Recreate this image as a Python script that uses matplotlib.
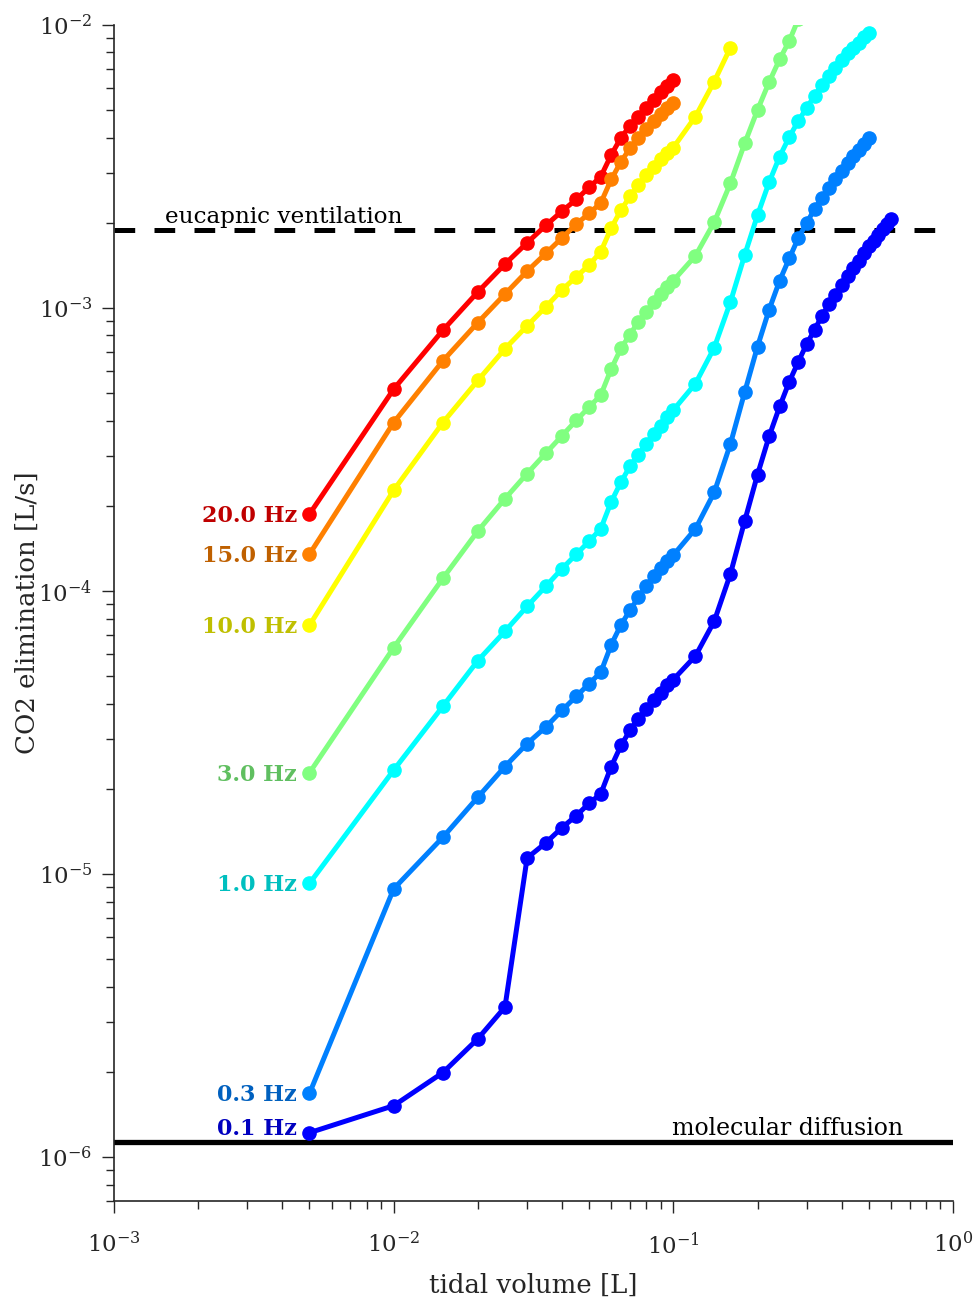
import numpy as np
import matplotlib
matplotlib.use("Agg")
import matplotlib.pyplot as plt
from matplotlib.ticker import LogLocator, LogFormatterSciNotation, NullFormatter

plt.rcParams['font.family'] = ['DejaVu Serif']
plt.rcParams['mathtext.fontset'] = 'dejavuserif'
plt.rcParams['axes.unicode_minus'] = False

# ---------------- data ----------------
tidal_volume = [0.005, 0.010, 0.015, 0.020, 0.025, 0.030, 0.035, 0.040, 0.045, 0.050,
                0.055, 0.060, 0.065, 0.070, 0.075, 0.080, 0.085, 0.090, 0.095, 0.100,
                0.12, 0.14, 0.16, 0.18, 0.20, 0.22, 0.24, 0.26, 0.28, 0.30,
                0.32, 0.34, 0.36, 0.38, 0.40, 0.42, 0.44, 0.46, 0.48, 0.50,
                0.52, 0.54, 0.56, 0.58, 0.60]

freq_labels = ['20.0 Hz', '15.0 Hz', '10.0 Hz', '3.0 Hz', '1.0 Hz', '0.3 Hz', '0.1 Hz']

co2_20hz = [1.87e-4, 5.17e-4, 8.35e-4, 1.14e-3, 1.43e-3, 1.70e-3, 1.96e-3, 2.20e-3, 2.42e-3, 2.67e-3,
            2.91e-3, 3.48e-3, 4.00e-3, 4.40e-3, 4.75e-3, 5.11e-3, 5.44e-3, 5.79e-3, 6.11e-3, 6.40e-3]
co2_15hz = [1.35e-4, 3.94e-4, 6.51e-4, 8.89e-4, 1.12e-3, 1.35e-3, 1.56e-3, 1.77e-3, 1.98e-3, 2.16e-3,
            2.35e-3, 2.85e-3, 3.29e-3, 3.67e-3, 3.98e-3, 4.28e-3, 4.58e-3, 4.84e-3, 5.08e-3, 5.29e-3]
co2_10hz = [7.57e-5, 2.27e-4, 3.94e-4, 5.55e-4, 7.18e-4, 8.65e-4, 1.01e-3, 1.16e-3, 1.29e-3, 1.42e-3,
            1.58e-3, 1.92e-3, 2.22e-3, 2.48e-3, 2.71e-3, 2.94e-3, 3.16e-3, 3.36e-3, 3.54e-3, 3.69e-3,
            4.75e-3, 6.31e-3, 8.32e-3]
co2_3hz = [2.28e-5, 6.31e-5, 1.11e-4, 1.63e-4, 2.12e-4, 2.60e-4, 3.07e-4, 3.54e-4, 4.01e-4, 4.47e-4,
           4.92e-4, 6.10e-4, 7.21e-4, 8.06e-4, 8.96e-4, 9.67e-4, 1.05e-3, 1.12e-3, 1.19e-3, 1.25e-3,
           1.53e-3, 2.01e-3, 2.76e-3, 3.82e-3, 5.01e-3, 6.28e-3, 7.57e-3, 8.80e-3, 1.05e-2]
co2_1hz = [9.27e-6, 2.33e-5, 3.92e-5, 5.68e-5, 7.21e-5, 8.83e-5, 1.04e-4, 1.20e-4, 1.35e-4, 1.50e-4,
           1.66e-4, 2.07e-4, 2.43e-4, 2.76e-4, 3.03e-4, 3.32e-4, 3.59e-4, 3.84e-4, 4.12e-4, 4.36e-4,
           5.41e-4, 7.24e-4, 1.05e-3, 1.54e-3, 2.13e-3, 2.78e-3, 3.43e-3, 4.03e-3, 4.58e-3, 5.11e-3,
           5.62e-3, 6.13e-3, 6.61e-3, 7.07e-3, 7.52e-3, 7.95e-3, 8.32e-3, 8.66e-3, 9.05e-3, 9.39e-3]
co2_03hz = [1.68e-6, 8.87e-6, 1.35e-5, 1.87e-5, 2.40e-5, 2.89e-5, 3.31e-5, 3.79e-5, 4.25e-5, 4.71e-5,
            5.16e-5, 6.47e-5, 7.61e-5, 8.55e-5, 9.50e-5, 1.04e-4, 1.13e-4, 1.21e-4, 1.28e-4, 1.34e-4,
            1.66e-4, 2.23e-4, 3.31e-4, 5.05e-4, 7.31e-4, 9.86e-4, 1.25e-3, 1.50e-3, 1.77e-3, 2.00e-3,
            2.24e-3, 2.44e-3, 2.66e-3, 2.85e-3, 3.06e-3, 3.26e-3, 3.45e-3, 3.62e-3, 3.80e-3, 3.98e-3]
co2_01hz = [1.22e-6, 1.52e-6, 1.99e-6, 2.62e-6, 3.39e-6, 1.14e-5, 1.29e-5, 1.46e-5, 1.61e-5, 1.78e-5,
            1.92e-5, 2.40e-5, 2.85e-5, 3.22e-5, 3.54e-5, 3.83e-5, 4.11e-5, 4.37e-5, 4.65e-5, 4.87e-5,
            5.90e-5, 7.82e-5, 1.15e-4, 1.77e-4, 2.58e-4, 3.52e-4, 4.49e-4, 5.50e-4, 6.47e-4, 7.47e-4,
            8.38e-4, 9.39e-4, 1.03e-3, 1.11e-3, 1.21e-3, 1.30e-3, 1.38e-3, 1.47e-3, 1.56e-3, 1.65e-3,
            1.73e-3, 1.81e-3, 1.90e-3, 1.98e-3, 2.06e-3]

eucapnic_level = 1.89e-3
diffusion_level = 1.13e-6

series = [co2_20hz, co2_15hz, co2_10hz, co2_3hz, co2_1hz, co2_03hz, co2_01hz]
line_colors = [(1.0, 0.0, 0.0), (1.0, 0.5, 0.0), (1.0, 1.0, 0.0), (0.5, 1.0, 0.5),
               (0.0, 1.0, 1.0), (0.0, 0.5, 1.0), (0.0, 0.0, 1.0)]
label_dy = [0, 0, 0, 0, 0, 0, 4.0]   # points; lowest label nudged up

# ---------------- figure ----------------
W, H = 976, 1301
fig = plt.figure(figsize=(W / 100, H / 100), dpi=100)
ax = fig.add_axes([114 / W, 1 - 1201 / H, (953 - 114) / W, (1201 - 25) / H])
ax.set_xscale('log')
ax.set_yscale('log')
ax.set_xlim(1e-3, 1)
ax.set_ylim(7e-7, 1e-2)

ax.axhline(eucapnic_level, color='black', lw=3.6, dashes=(4.14, 3.86), zorder=1)
ax.axhline(diffusion_level, color='black', lw=3.8, zorder=1)

for vals, col, lab, dy in zip(series, line_colors, freq_labels, label_dy):
    xs = tidal_volume[:len(vals)]
    ax.plot(xs, vals, '-o', color=col, lw=3.6, ms=9.5, mec=col, mfc=col, zorder=3)
    dark = tuple(0.75 * c for c in col)
    ax.annotate(lab, xy=(xs[0], vals[0]), xytext=(-9, -5.6 + dy), textcoords='offset points',
                ha='right', va='baseline', color=dark, fontsize=16, fontweight='bold')

ax.annotate('eucapnic ventilation', xy=(0.0608, eucapnic_level),
            xycoords=('axes fraction', 'data'), xytext=(0, 4.8), textcoords='offset points',
            ha='left', va='baseline', fontsize=16.7, color='black')
ax.annotate('molecular diffusion', xy=(0.9404, diffusion_level),
            xycoords=('axes fraction', 'data'), xytext=(0, 4.8), textcoords='offset points',
            ha='right', va='baseline', fontsize=17, color='black')

# axes styling
for s in ['top', 'right']:
    ax.spines[s].set_visible(False)
for s in ['left', 'bottom']:
    ax.spines[s].set_color('#262626')
    ax.spines[s].set_linewidth(1.2)

for axis in (ax.xaxis, ax.yaxis):
    axis.set_major_locator(LogLocator(base=10, numticks=20))
    axis.set_minor_locator(LogLocator(base=10, subs=np.arange(2, 10), numticks=20))
    axis.set_major_formatter(LogFormatterSciNotation())
    axis.set_minor_formatter(NullFormatter())

ax.tick_params(which='both', direction='out', colors='#262626', width=1.0, labelsize=16.5)
ax.tick_params(which='major', length=8.6)
ax.tick_params(which='minor', length=5.5)
ax.tick_params(axis='x', which='major', pad=14)
ax.tick_params(axis='y', which='major', pad=7)

ax.set_xlabel('tidal volume [L]', fontsize=18.7, color='#262626')
ax.set_ylabel('CO2 elimination [L/s]', fontsize=18.7, color='#262626')
ax.xaxis.set_label_coords(0.5, -0.0612)
ax.xaxis.label.set_va('top')
ax.yaxis.set_label_coords(-0.088, 0.5)

fig.savefig('out.png', dpi=100)
